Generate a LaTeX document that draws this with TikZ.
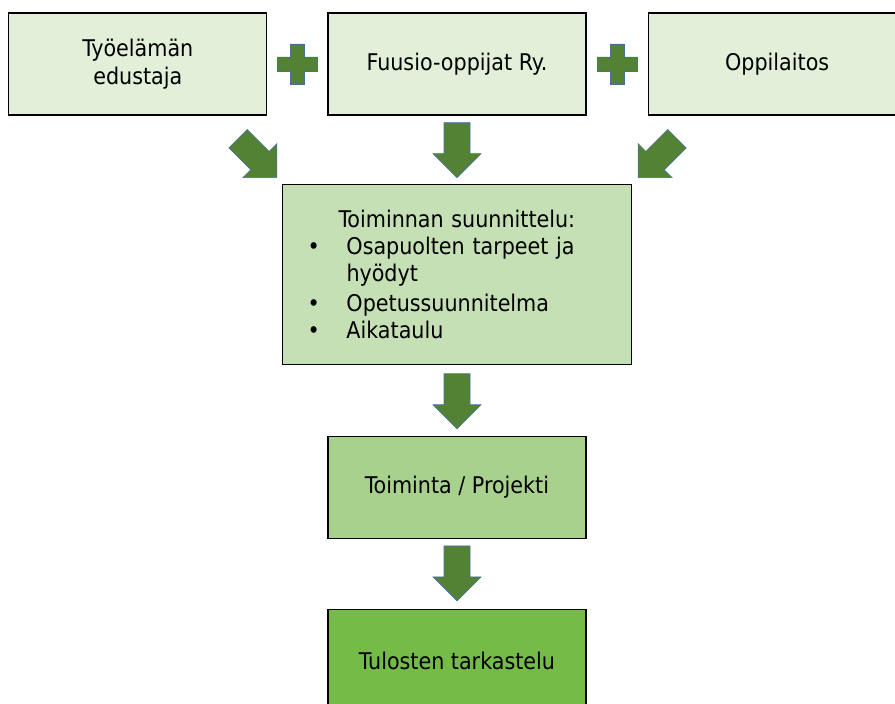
\documentclass[tikz,border=0pt]{standalone}
\usepackage{fontspec}
\setmainfont{DejaVu Sans Condensed}
\usetikzlibrary{positioning,calc}
\definecolor{lightbox}{HTML}{E2F0D9}
\definecolor{planbox}{HTML}{C5E0B4}
\definecolor{actbox}{HTML}{A9D18E}
\definecolor{resultbox}{RGB}{117,187,72}
\definecolor{arrowgreen}{HTML}{548235}
\definecolor{arrowedge}{HTML}{41719C}
\tikzstyle{box} = [draw=black, line width=1.2pt, minimum width=258pt, minimum height=102pt,
    align=center, inner sep=0pt, font=\fontsize{23}{28}\selectfont]
\tikzstyle{blockfill} = [fill=arrowgreen, draw=arrowedge, line width=0.6pt]
\tikzset{
    blockarrow/.pic={\path[blockfill] (0,0) -- (-24,24) -- (-13,24) -- (-13,55) -- (13,55) -- (13,24) -- (24,24) -- cycle;},
    plussign/.pic={\path[blockfill] (-7,20) -- (7,20) -- (7,7) -- (20,7) -- (20,-7) -- (7,-7) -- (7,-20)
        -- (-7,-20) -- (-7,-7) -- (-20,-7) -- (-20,7) -- (-7,7) -- cycle;}
}

\begin{document}
\begin{tikzpicture}[x=1pt, y=1pt]
    \useasboundingbox[fill=white] (0,0) rectangle (895,704);

    % top row
    \node[box, fill=lightbox] (fuusio) at (457,640) {Fuusio-oppijat Ry.};
    \node[box, fill=lightbox, left=60pt of fuusio] (tyoelama) {Työelämän\\edustaja};
    \node[box, fill=lightbox, right=61pt of fuusio] (oppilaitos) {Oppilaitos};

    % planning and the steps after it
    \node[box, fill=planbox, minimum width=349pt, minimum height=180pt, text width=299pt,
        inner xsep=25pt, align=left, font=\fontsize{23}{27}\selectfont,
        below=68pt of fuusio] (suunnittelu)
        {\makebox[299pt]{Toiminnan suunnittelu:}\\
         \makebox[39pt][l]{\textbullet}Osapuolten tarpeet ja\\
         \hspace*{39pt}hyödyt\\[3pt]
         \makebox[39pt][l]{\textbullet}Opetussuunnitelma\\
         \makebox[39pt][l]{\textbullet}Aikataulu};
    \node[box, fill=actbox, below=71pt of suunnittelu] (toiminta) {Toiminta / Projekti};
    \node[box, fill=resultbox, below=70pt of toiminta] (tulokset) {Tulosten tarkastelu};

    % plus signs
    \pic at ($(tyoelama.east)!0.5!(fuusio.west)$) {plussign};
    \pic at ($(fuusio.east)!0.5!(oppilaitos.west)$) {plussign};

    % block arrows
    \pic[rotate=45] at ($(suunnittelu.north west)+(-5,6)$) {blockarrow};
    \pic at ($(suunnittelu.north)+(0,6)$) {blockarrow};
    \pic[rotate=-45] at ($(suunnittelu.north east)+(6,6)$) {blockarrow};
    \pic at ($(toiminta.north)+(0,7)$) {blockarrow};
    \pic at ($(tulokset.north)+(0,8)$) {blockarrow};
\end{tikzpicture}
\end{document}
